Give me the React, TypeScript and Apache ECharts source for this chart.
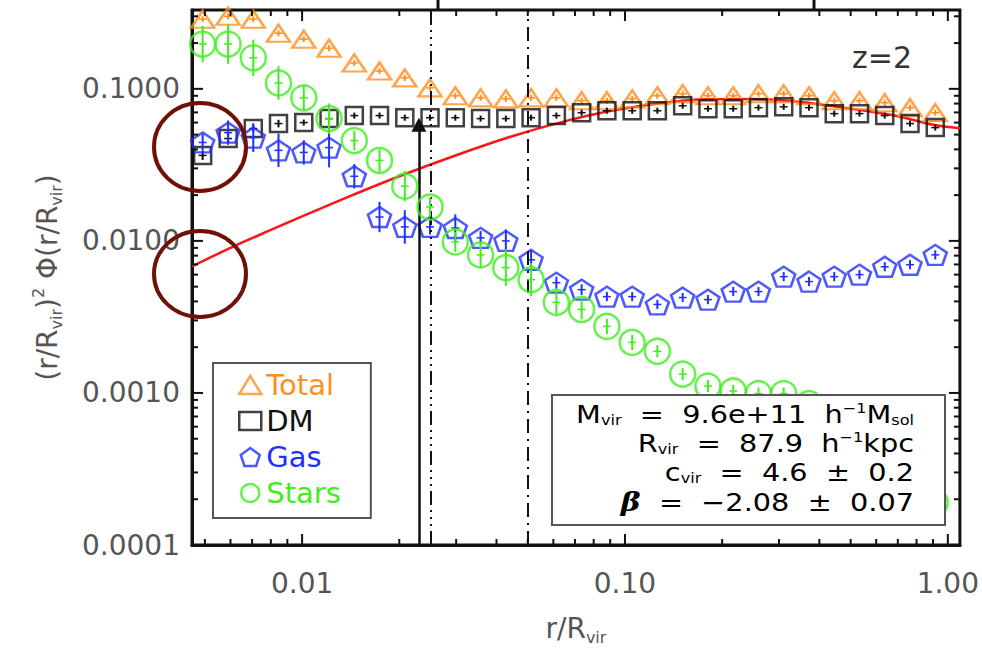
import React, { useEffect, useRef } from 'react';
import * as echarts from 'echarts';

// Radial bins (r / R_vir), log-spaced bin centres
const radii = [
  0.00492, 0.0059, 0.00706, 0.00845, 0.01012, 0.01212, 0.01451, 0.01737, 0.0208, 0.0249,
  0.02982, 0.03571, 0.04276, 0.0512, 0.06131, 0.07341, 0.0879, 0.1053, 0.126, 0.1509,
  0.1807, 0.2164, 0.2591, 0.3102, 0.3715, 0.4448, 0.5326, 0.6377, 0.7636, 0.9143,
];

// (r/R_vir)^2 Φ(r/R_vir) for each component
const totalValues = [
  0.287, 0.3, 0.287, 0.232, 0.212, 0.185, 0.148, 0.131, 0.118, 0.1015,
  0.09, 0.0873, 0.086, 0.0873, 0.0873, 0.0835, 0.0835, 0.086, 0.09, 0.0928,
  0.09, 0.09, 0.0928, 0.0928, 0.09, 0.0835, 0.0835, 0.081, 0.0752, 0.0697,
];
const dmValues = [
  0.0365, 0.0471, 0.0548, 0.0591, 0.06, 0.0637, 0.0667, 0.0667, 0.0646, 0.0646,
  0.0646, 0.0637, 0.0637, 0.0646, 0.0667, 0.0697, 0.0718, 0.0718, 0.0718, 0.0774,
  0.074, 0.074, 0.0752, 0.0762, 0.0752, 0.0687, 0.0687, 0.0667, 0.0591, 0.0556,
];
const gasValues = [
  0.0444, 0.0515, 0.0478, 0.0394, 0.0382, 0.0411, 0.0266, 0.01436, 0.01236, 0.01236,
  0.01216, 0.01047, 0.01, 0.00751, 0.00531, 0.00478, 0.0043, 0.0043, 0.00382, 0.00424,
  0.00411, 0.00464, 0.00464, 0.00582, 0.0054, 0.00582, 0.006, 0.00676, 0.00697, 0.00809,
];
const starValues = [
  0.197, 0.197, 0.16, 0.1094, 0.0873, 0.0637, 0.0457, 0.0338, 0.0229, 0.0167,
  0.00984, 0.00809, 0.00667, 0.00556, 0.00394, 0.00354, 0.00274, 0.00215, 0.00188, 0.00133,
  0.00111, 0.00103, 0.00099, 0.00099, 0.00085, 0.0007, 0.00055, 0.00042, 0.0003, 0.00019,
];

// 1-sigma errors, in dex
const totalErr = [
  0.02, 0.02, 0.02, 0.02, 0.02, 0.02, 0.02, 0.02, 0.02, 0.02,
  0.02, 0.02, 0.02, 0.02, 0.02, 0.02, 0.02, 0.02, 0.02, 0.02,
  0.02, 0.02, 0.02, 0.02, 0.02, 0.02, 0.02, 0.02, 0.02, 0.02,
];
const dmErr = [
  0.03, 0.03, 0.025, 0.025, 0.02, 0.02, 0.02, 0.02, 0.02, 0.02,
  0.02, 0.02, 0.02, 0.02, 0.02, 0.02, 0.02, 0.02, 0.02, 0.02,
  0.02, 0.02, 0.02, 0.02, 0.02, 0.02, 0.02, 0.02, 0.02, 0.02,
];
const gasErr = [
  0.055, 0.08, 0.095, 0.11, 0.08, 0.13, 0.08, 0.1, 0.11, 0.05,
  0.09, 0.045, 0.075, 0.065, 0.04, 0.035, 0.03, 0.03, 0.03, 0.03,
  0.03, 0.03, 0.03, 0.03, 0.03, 0.03, 0.03, 0.03, 0.03, 0.03,
];
const starErr = [
  0.12, 0.13, 0.12, 0.11, 0.08, 0.1, 0.065, 0.075, 0.1, 0.065,
  0.065, 0.085, 0.12, 0.11, 0.08, 0.065, 0.05, 0.05, 0.04, 0.04,
  0.04, 0.04, 0.04, 0.04, 0.04, 0.04, 0.04, 0.04, 0.04, 0.04,
];

// NFW fit (red curve)
const fitRadii = [0.00456, 0.006, 0.008, 0.01, 0.014, 0.02, 0.03, 0.045, 0.065, 0.09, 0.13, 0.18, 0.25, 0.35, 0.5, 0.7, 0.9, 1.09];
const fitValues = [0.0068, 0.009, 0.0118, 0.0145, 0.0196, 0.0266, 0.0366, 0.049, 0.0611, 0.0714, 0.0807, 0.0854, 0.0857, 0.082, 0.074, 0.066, 0.058, 0.055];

// Reference radii
const softeningRadius = 0.025;
const twiceSoftening = 0.05;
const convergenceRadius = 0.023;
const convergenceArrowTip = 0.058;

// Halo fit summary, one entry per line of the info box
const haloSummary = [
  '{m|M}{s|vir}{m|  =  9.6e+11  h}{u|−1}{m|M}{s|sol}',
  '{m|R}{s|vir}{m|  =  87.9  h}{u|−1}{m|kpc}',
  '{m|c}{s|vir}{m|  =  4.6  ±  0.2}',
  '{b|β}{m|  =  −2.08  ±  0.07}',
];

// Axis extents and tick marks
const X_MIN = 0.00456;
const X_MAX = 1.09;
const Y_MIN = 0.0001;
const Y_MAX = 0.33;
const xMajorTicks = [0.01, 0.1, 1];
const xMinorTicks = [
  0.005, 0.006, 0.007, 0.008, 0.009,
  0.02, 0.03, 0.04, 0.05, 0.06, 0.07, 0.08, 0.09,
  0.2, 0.3, 0.4, 0.5, 0.6, 0.7, 0.8, 0.9,
];
const yMajorTicks = [0.0001, 0.001, 0.01, 0.1];
const yMinorTicks = [
  0.0002, 0.0003, 0.0004, 0.0005, 0.0006, 0.0007, 0.0008, 0.0009,
  0.002, 0.003, 0.004, 0.005, 0.006, 0.007, 0.008, 0.009,
  0.02, 0.03, 0.04, 0.05, 0.06, 0.07, 0.08, 0.09,
  0.2, 0.3,
];

const ORANGE = '#ff8f1f';
const BLACK = '#111111';
const BLUE = '#2030ff';
const GREEN = '#40ee20';
const RED = '#ff1515';
const GREY = '#555555';
const MAROON = '#6e1208';
const FONT = 'DejaVu Sans';

const PENTAGON = 'path://M0,-10L9.51,-3.09L5.88,8.09L-5.88,8.09L-9.51,-3.09Z';

const isPow10 = (v: number) => Math.abs(Math.log10(v) - Math.round(Math.log10(v))) < 1e-6;

function pointsOf(values: number[]) {
  return radii.map((r, i) => [r, values[i]]);
}

function errorRows(values: number[], err: number[]) {
  return radii.map((r, i) => [r, values[i], values[i] / Math.pow(10, err[i]), values[i] * Math.pow(10, err[i])]);
}

function errorBarRenderer(color: string) {
  return (params: any, api: any) => {
    const x = api.value(0);
    const c = api.coord([x, api.value(1)]);
    const lo = api.coord([x, api.value(2)]);
    const hi = api.coord([x, api.value(3)]);
    return {
      type: 'group',
      children: [
        { type: 'line', shape: { x1: c[0], y1: lo[1], x2: c[0], y2: hi[1] }, style: { stroke: color, lineWidth: 2 } },
        { type: 'line', shape: { x1: c[0] - 4, y1: c[1], x2: c[0] + 4, y2: c[1] }, style: { stroke: color, lineWidth: 1.5 } },
      ],
    };
  };
}

// Inward-pointing tick marks on all four sides of the frame
function tickRenderer(axis: 'x' | 'y') {
  return (params: any, api: any) => {
    const cs = params.coordSys;
    const major = api.value(2) === 1;
    const len = major ? 11 : 6;
    const style = { stroke: BLACK, lineWidth: 2 };
    if (axis === 'x') {
      const px = api.coord([api.value(0), Y_MIN])[0];
      return {
        type: 'group',
        children: [
          { type: 'line', shape: { x1: px, y1: cs.y + cs.height, x2: px, y2: cs.y + cs.height - len }, style },
          { type: 'line', shape: { x1: px, y1: cs.y, x2: px, y2: cs.y + len }, style },
        ],
      };
    }
    const py = api.coord([X_MIN, api.value(1)])[1];
    return {
      type: 'group',
      children: [
        { type: 'line', shape: { x1: cs.x, y1: py, x2: cs.x + len, y2: py }, style },
        { type: 'line', shape: { x1: cs.x + cs.width, y1: py, x2: cs.x + cs.width - len, y2: py }, style },
      ],
    };
  };
}

const hollow = (color: string) => ({ color: 'rgba(255,255,255,0)', borderColor: color, borderWidth: 2.5 });

const infoRich = {
  m: { fontSize: 25, fontFamily: FONT, color: BLACK, lineHeight: 26 },
  b: { fontSize: 26, fontFamily: 'DejaVu Serif', fontStyle: 'italic', fontWeight: 'bold', color: BLACK, lineHeight: 26 },
  s: { fontSize: 14, fontFamily: FONT, color: BLACK, lineHeight: 12, verticalAlign: 'bottom' },
  u: { fontSize: 14, fontFamily: FONT, color: BLACK, lineHeight: 12, verticalAlign: 'top' },
};

const axisNameRich = {
  m: { fontSize: 28, fontFamily: FONT, color: GREY, lineHeight: 34 },
  s: { fontSize: 16, fontFamily: FONT, color: GREY, lineHeight: 14, verticalAlign: 'bottom' },
  u: { fontSize: 16, fontFamily: FONT, color: GREY, lineHeight: 14, verticalAlign: 'top' },
};

const vline = (x: number, type: number[]) => [
  { coord: [x, Y_MIN], symbol: 'none', lineStyle: { color: BLACK, width: 2, type } },
  { coord: [x, Y_MAX], symbol: 'none' },
];

export default function App() {
  const ref = useRef<HTMLDivElement>(null);

  useEffect(() => {
    if (!ref.current) return;
    const chart = echarts.init(ref.current, null, { renderer: 'svg' });

    const option: any = {
      animation: false,
      backgroundColor: '#ffffff',
      grid: {
        left: 192, right: 22, top: 10, bottom: 101,
        show: true, borderColor: BLACK, borderWidth: 3, backgroundColor: 'rgba(0,0,0,0)',
      },
      xAxis: {
        type: 'log', logBase: 10, min: X_MIN, max: X_MAX,
        splitLine: { show: false },
        axisTick: { show: false },
        axisLine: { show: true, lineStyle: { color: BLACK, width: 3 } },
        axisLabel: {
          color: GREY, fontSize: 28, fontFamily: FONT, margin: 24,
          showMinLabel: false, showMaxLabel: false,
          formatter: (v: number) => (isPow10(v) ? v.toFixed(2) : ''),
        },
        name: '{m|r/R}{s|vir}',
        nameLocation: 'middle', nameGap: 66,
        nameTextStyle: { rich: axisNameRich },
      },
      yAxis: {
        type: 'log', logBase: 10, min: Y_MIN, max: Y_MAX,
        splitLine: { show: false },
        axisTick: { show: false },
        axisLine: { show: true, lineStyle: { color: BLACK, width: 3 } },
        axisLabel: {
          color: GREY, fontSize: 28, fontFamily: FONT, margin: 12,
          showMaxLabel: false,
          formatter: (v: number) => (isPow10(v) ? v.toFixed(4) : ''),
        },
        name: '{m|(r/R}{s|vir}{m|)}{u|2}{m| Φ(r/R}{s|vir}{m|)}',
        nameLocation: 'middle', nameRotate: 90, nameGap: 128,
        nameTextStyle: { rich: axisNameRich },
      },
      legend: {
        orient: 'vertical', left: 213, top: 363,
        padding: [4, 30, 7, 25],
        itemGap: 0, itemWidth: 22, itemHeight: 18,
        backgroundColor: '#ffffff', borderColor: GREY, borderWidth: 2,
        selectedMode: false,
        textStyle: { fontFamily: FONT, fontSize: 29, lineHeight: 36 },
        data: [
          { name: 'Total', icon: 'triangle', itemStyle: hollow(ORANGE), textStyle: { color: ORANGE } },
          { name: 'DM', icon: 'rect', itemStyle: hollow(BLACK), textStyle: { color: BLACK } },
          { name: 'Gas', icon: PENTAGON, itemStyle: hollow(BLUE), textStyle: { color: BLUE } },
          { name: 'Stars', icon: 'circle', itemStyle: hollow(GREEN), textStyle: { color: GREEN } },
        ],
      },
      series: [
        {
          name: 'NFW fit', type: 'line', data: fitRadii.map((r, i) => [r, fitValues[i]]),
          showSymbol: false, smooth: 0.3, lineStyle: { color: RED, width: 2.5 }, silent: true, z: 1,
          markLine: {
            silent: true, symbol: ['none', 'none'], label: { show: false }, animation: false, precision: 6,
            data: [
              vline(softeningRadius, [14, 5, 2, 5, 2, 5, 2, 5]),
              vline(twiceSoftening, [14, 6, 2, 6]),
              [
                { coord: [convergenceRadius, Y_MIN], symbol: 'none' },
                { coord: [convergenceRadius, convergenceArrowTip], symbol: 'triangle', symbolSize: [15, 14] },
              ],
            ],
            lineStyle: { color: BLACK, width: 2.5, type: 'solid' },
            itemStyle: { color: BLACK },
          },
        },
        { name: 'Total', type: 'scatter', symbol: 'triangle', symbolSize: [23, 17], data: pointsOf(totalValues), itemStyle: hollow(ORANGE), z: 2 },
        { name: 'Total', type: 'custom', renderItem: errorBarRenderer(ORANGE), data: errorRows(totalValues, totalErr), encode: { x: 0, y: [1, 2, 3] }, z: 2 },
        { name: 'DM', type: 'scatter', symbol: 'rect', symbolSize: 17, data: pointsOf(dmValues), itemStyle: hollow(BLACK), z: 3 },
        { name: 'DM', type: 'custom', renderItem: errorBarRenderer(BLACK), data: errorRows(dmValues, dmErr), encode: { x: 0, y: [1, 2, 3] }, z: 3 },
        { name: 'Gas', type: 'scatter', symbol: PENTAGON, symbolSize: [23, 20], data: pointsOf(gasValues), itemStyle: hollow(BLUE), z: 4 },
        { name: 'Gas', type: 'custom', renderItem: errorBarRenderer(BLUE), data: errorRows(gasValues, gasErr), encode: { x: 0, y: [1, 2, 3] }, z: 4 },
        { name: 'Stars', type: 'scatter', symbol: 'circle', symbolSize: 25, data: pointsOf(starValues), itemStyle: hollow(GREEN), z: 5 },
        { name: 'Stars', type: 'custom', renderItem: errorBarRenderer(GREEN), data: errorRows(starValues, starErr), encode: { x: 0, y: [1, 2, 3] }, z: 5 },
        {
          name: 'x ticks', type: 'custom', renderItem: tickRenderer('x'), silent: true, z: 6,
          data: [...xMajorTicks.map((v) => [v, Y_MIN, 1]), ...xMinorTicks.map((v) => [v, Y_MIN, 0])],
          encode: { x: 0, y: 1 },
        },
        {
          name: 'y ticks', type: 'custom', renderItem: tickRenderer('y'), silent: true, z: 6,
          data: [...yMajorTicks.map((v) => [X_MIN, v, 1]), ...yMinorTicks.map((v) => [X_MIN, v, 0])],
          encode: { x: 0, y: 1 },
        },
      ],
      graphic: [
        {
          type: 'text', right: 70, top: 42, z: 100,
          style: { text: 'z=2', fontSize: 30, fontFamily: FONT, fill: '#333333' },
        },
        {
          type: 'group', z: 100,
          children: [
            { type: 'rect', shape: { x: 552, y: 395, width: 393, height: 130 }, style: { fill: '#ffffff', stroke: GREY, lineWidth: 2 }, z: 100 },
            ...haloSummary.map((text, i) => ({
              type: 'text', x: 914, y: 414 + i * 29.3, scaleX: 1.15, z: 101,
              style: { align: 'right', verticalAlign: 'middle', rich: infoRich, text },
            })),
          ],
        },
        // marks above the frame
        { type: 'line', z: 100, shape: { x1: 438, y1: 0, x2: 438, y2: 10 }, style: { stroke: BLACK, lineWidth: 3 } },
        { type: 'line', z: 100, shape: { x1: 814, y1: 0, x2: 814, y2: 10 }, style: { stroke: BLACK, lineWidth: 3 } },
        // highlight rings
        { type: 'ellipse', z: 110, shape: { cx: 200, cy: 147, rx: 46, ry: 44 }, style: { fill: 'none', stroke: MAROON, lineWidth: 4 } },
        { type: 'ellipse', z: 110, shape: { cx: 200, cy: 274, rx: 46, ry: 43 }, style: { fill: 'none', stroke: MAROON, lineWidth: 4 } },
      ],
    };

    chart.setOption(option);
    return () => chart.dispose();
  }, []);

  return <div ref={ref} style={{ position: 'fixed', left: 0, top: 0, width: 982, height: 650 }} />;
}
